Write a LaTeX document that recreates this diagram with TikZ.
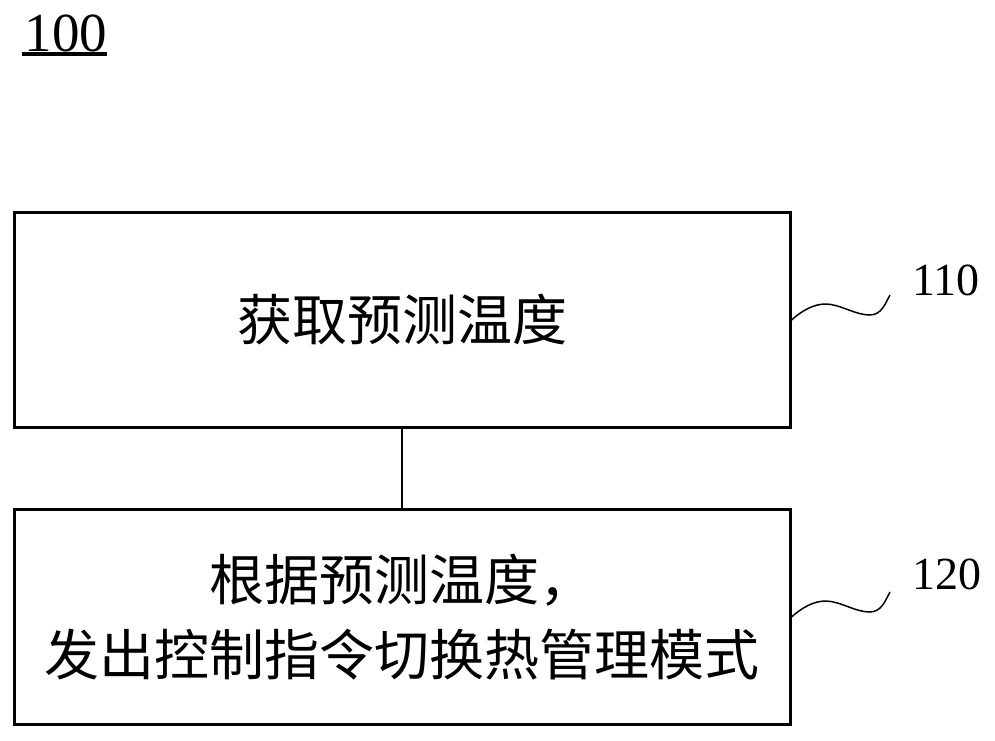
\documentclass[tikz,border=0pt]{standalone}
\usepackage{fontspec}
\setmainfont{Liberation Serif}
\newfontfamily\cjk{Noto Sans CJK SC}
\begin{document}
\begin{tikzpicture}[x=1pt,y=-1pt,
  stepbox/.style={draw=black,line width=3pt,minimum width=776pt,minimum height=215.5pt,inner sep=0pt,align=center,font=\cjk\fontsize{55}{75}\selectfont},
  reflabel/.style={inner sep=0pt,font=\fontsize{46}{46}\selectfont},
  squig/.style={line width=1.5pt},
  link/.style={line width=1.3pt}]
\useasboundingbox (0,0) rectangle (995,740);
\node[stepbox] (b1) at (402,320) {获取预测温度};
\node[stepbox] (b2) at (402,617) {根据预测温度，\\发出控制指令切换热管理模式};
\draw[link] (b1.south) -- (b2.north);
\node[inner sep=0pt,font=\fontsize{55}{55}\selectfont] (l100) at (66,33) {100};
\coordinate (u1) at (22,54);
\coordinate (u2) at (107,54);
\draw[line width=4pt] (u1) -- (u2);
\node[reflabel,anchor=west] (l110) at (912,280) {110};
\node[reflabel,anchor=west] (l120) at (912,574) {120};
\coordinate (e110) at (890,295);
\coordinate (e120) at (890,592);
\draw[squig] (b1.east) .. controls +(10,-9) and +(-12,0) .. ++(34,-16)
  .. controls +(14,0) and +(-14,0) .. ++(44,11)
  .. controls +(12,0) and +(-5,9) .. (e110);
\draw[squig] (b2.east) .. controls +(10,-9) and +(-12,0) .. ++(34,-16)
  .. controls +(14,0) and +(-14,0) .. ++(44,11)
  .. controls +(12,0) and +(-5,9) .. (e120);
\end{tikzpicture}
\end{document}
